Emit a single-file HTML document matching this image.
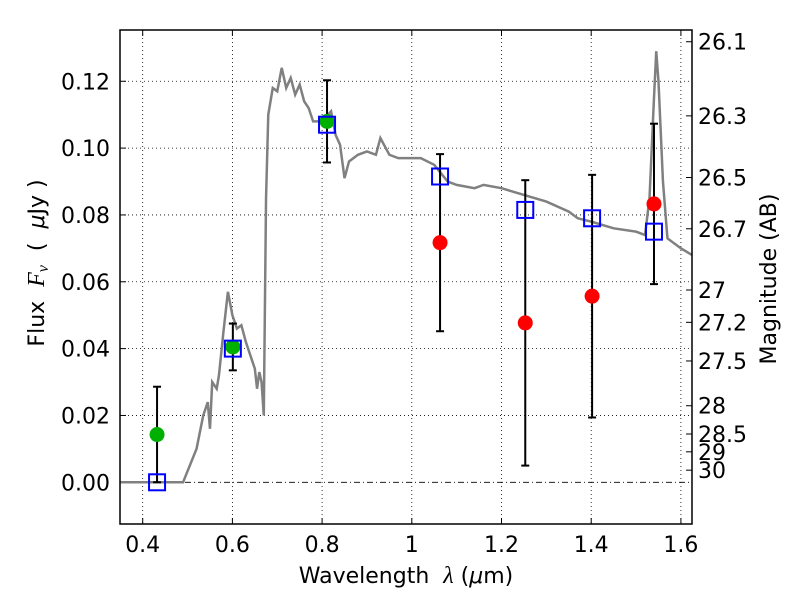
<!DOCTYPE html>
<html><head><meta charset="utf-8"><style>body{margin:0;background:#fff}svg{font-family:"DejaVu Sans","Liberation Sans",sans-serif}svg text{white-space:pre}</style></head>
<body>
<svg id="c" width="800" height="600" xmlns="http://www.w3.org/2000/svg"></svg>
<script>
const specX=[0.35,0.49,0.52,0.535,0.545,0.55,0.555,0.565,0.57,0.58,0.59,0.6,0.61,0.62,0.63,0.64,0.65,0.655,0.66,0.665,0.67,0.675,0.68,0.69,0.70,0.71,0.72,0.73,0.74,0.75,0.76,0.77,0.78,0.8,0.82,0.83,0.84,0.85,0.86,0.88,0.9,0.92,0.93,0.95,0.97,1.0,1.02,1.05,1.08,1.1,1.14,1.16,1.2,1.25,1.3,1.35,1.37,1.4,1.45,1.5,1.52,1.53,1.54,1.545,1.55,1.56,1.57,1.6,1.625];
const specY=[0,0,0.01,0.02,0.024,0.016,0.03,0.028,0.032,0.045,0.057,0.05,0.046,0.047,0.042,0.038,0.034,0.028,0.033,0.03,0.02,0.085,0.11,0.118,0.117,0.124,0.118,0.121,0.116,0.119,0.114,0.112,0.108,0.108,0.111,0.104,0.101,0.091,0.096,0.098,0.099,0.098,0.103,0.098,0.097,0.097,0.097,0.095,0.09,0.089,0.088,0.089,0.088,0.086,0.084,0.081,0.079,0.078,0.076,0.075,0.074,0.085,0.115,0.129,0.12,0.09,0.073,0.07,0.068];
const obsX=[0.432,0.601,0.811,1.063,1.253,1.402,1.54];
const obsY=[0.0143,0.0405,0.108,0.0717,0.0477,0.0557,0.0833];
const obsErr=[0.0143,0.007,0.0123,0.0265,0.0427,0.0363,0.024];
const obsDet=[1,1,1,0,0,0,0];
const modelY=[0,0.040,0.107,0.0915,0.0815,0.079,0.075];
const xTicks=[0.4,0.6,0.8,1.0,1.2,1.4,1.6];
const xLabels=["0.4","0.6","0.8","1","1.2","1.4","1.6"];
const yTicks=[0,0.02,0.04,0.06,0.08,0.1,0.12];
const yLabels=["0.00","0.02","0.04","0.06","0.08","0.10","0.12"];
const magTicks=[26.1,26.3,26.5,26.7,27,27.2,27.5,28,28.5,29,30];
const L=120,R=692,T=30,B=524;
const X=v=>142.7+(v-0.4)*448.5;
const Y=v=>482.3-v*3342;
const s=document.getElementById('c');const NS='http://www.w3.org/2000/svg';
function el(t,a,txt){const e=document.createElementNS(NS,t);for(const k in a)e.setAttribute(k,a[k]);if(txt!==undefined)e.textContent=txt;s.appendChild(e);return e;}
xTicks.forEach((v,i)=>{
 const g=el('line',{x1:X(v),x2:X(v),y1:T,y2:B,stroke:'#000','stroke-dasharray':'1,3','stroke-width':0.8});
 
 el('line',{x1:X(v),x2:X(v),y1:B,y2:B-6,stroke:'#000'});el('line',{x1:X(v),x2:X(v),y1:T,y2:T+6,stroke:'#000'});
 const t=el('text',{x:X(v),y:B+28,'font-size':22,'text-anchor':'middle'},xLabels[i]);
 
});
yTicks.forEach((v,i)=>{
 const g=el('line',{x1:L,x2:R,y1:Y(v),y2:Y(v),stroke:'#000','stroke-dasharray':v===0?'6,3,1,3':'1,3','stroke-width':0.8});
 
 el('line',{x1:L,x2:L+6,y1:Y(v),y2:Y(v),stroke:'#000'});
 const t=el('text',{x:L-10,y:Y(v)+8,'font-size':22,'text-anchor':'end'},yLabels[i]);
 
});
magTicks.forEach(m=>{
 const f=Math.pow(10,(23.9-m)/2.5);
 el('line',{x1:R,x2:R-6,y1:Y(f),y2:Y(f),stroke:'#000'});
 const t=el('text',{x:R+6,y:Y(f)+8,'font-size':22},String(m));
 
});
const sp=el('polyline',{points:specX.map((x,i)=>X(x)+','+Y(specY[i])).join(' '),fill:'none',stroke:'#808080','stroke-width':2.5});

obsX.forEach((x,i)=>{
 const e=el('g',{});
 const y1=Y(obsY[i]+obsErr[i]),y2=Y(obsY[i]-obsErr[i]);
 [[X(x),X(x),y1,y2],[X(x)-4,X(x)+4,y1,y1],[X(x)-4,X(x)+4,y2,y2]].forEach(a=>{const l=document.createElementNS(NS,'line');l.setAttribute('x1',a[0]);l.setAttribute('x2',a[1]);l.setAttribute('y1',a[2]);l.setAttribute('y2',a[3]);l.setAttribute('stroke','#000');l.setAttribute('stroke-width',2);e.appendChild(l);});
});
obsX.forEach((x,i)=>{
 const c=el('circle',{cx:X(x),cy:Y(obsY[i]),r:7.5,fill:obsDet[i]?'#00b000':'#f00'});
 
});
obsX.forEach((x,i)=>{
 const r=el('rect',{x:X(x)-8,y:Y(modelY[i])-8,width:16,height:16,fill:'none',stroke:'#0000ff','stroke-width':2});
 
});
const fr=el('rect',{x:L,y:T,width:R-L,height:B-T,fill:'none',stroke:'#000','stroke-width':1.5});

const xt=el('text',{x:406,y:583,'font-size':22,'text-anchor':'middle'});

xt.innerHTML='Wavelength  <tspan font-family="Liberation Serif,serif" font-style="italic" font-size="24">λ</tspan> (<tspan font-style="italic">μ</tspan>m)';
const yt=el('text',{x:44,y:263,'font-size':22,'text-anchor':'middle',transform:'rotate(-90 44 263)'});

yt.innerHTML='Flux  <tspan font-family="Liberation Serif,serif" font-style="italic" font-size="24">F</tspan><tspan font-family="Liberation Serif,serif" font-style="italic" font-size="16" dy="4">ν</tspan><tspan dy="-4">  (  </tspan><tspan font-style="italic">μ</tspan>Jy )';
const yr=el('text',{x:776,y:279,'font-size':22,'text-anchor':'middle',transform:'rotate(-90 776 279)'},'Magnitude (AB)');

</script>
</body></html>
